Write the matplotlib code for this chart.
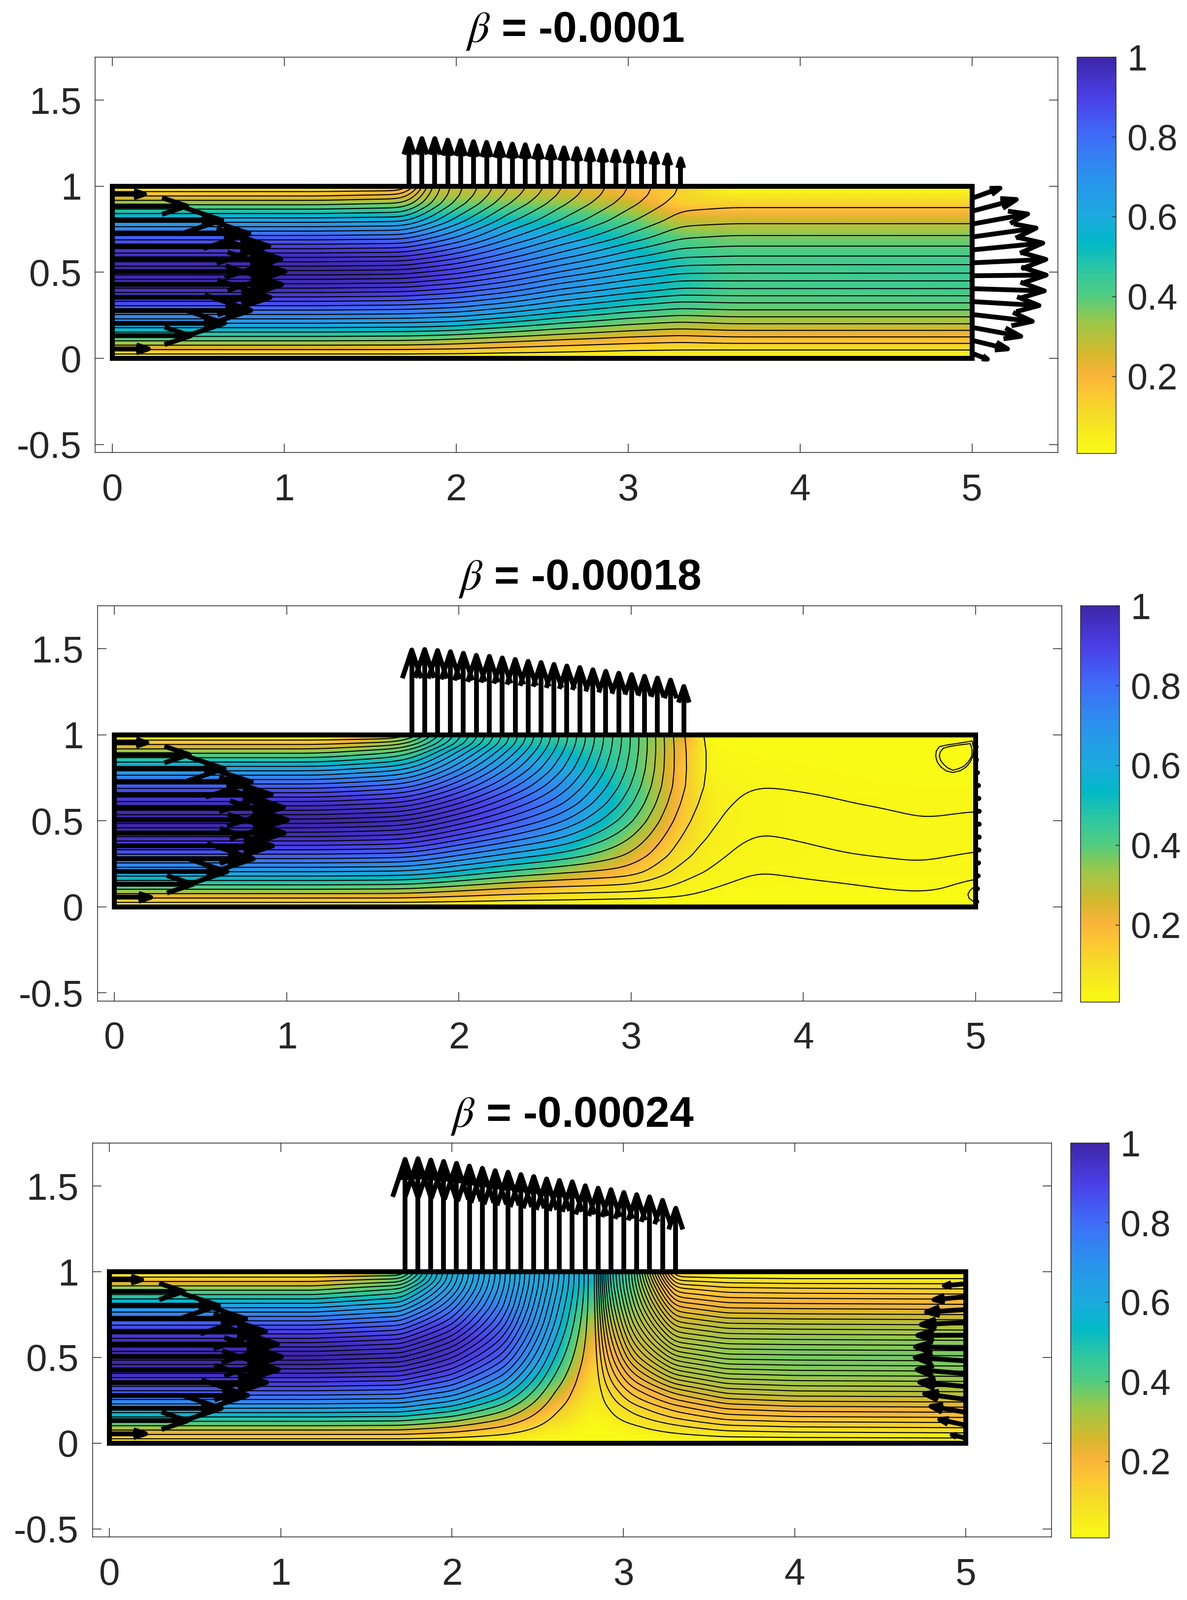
import numpy as np
import matplotlib
matplotlib.use('Agg')
import matplotlib.pyplot as plt
from matplotlib.colors import LinearSegmentedColormap

plt.rcParams['font.family'] = ['Liberation Sans', 'DejaVu Sans']
plt.rcParams['mathtext.fontset'] = 'stix'
plt.rcParams['axes.unicode_minus'] = False
plt.rcParams['contour.negative_linestyle'] = 'solid'

W, H = 2409, 3246
DARK = '#262626'

############# colour scale ###########################################
cmap_pos = [0.0, 0.10, 0.15, 0.20, 0.25, 0.33, 0.40, 0.46, 0.53, 0.60, 0.70, 0.80, 0.90, 1.0]
cmap_col = ['#f9fb15', '#f5da28', '#fcc733', '#f8b33a', '#d6b82c', '#9cc748', '#4fcc82', '#2fc7a0',
            '#02b9c6', '#1caadf', '#2a92ec', '#3f6df8', '#4a3fe6', '#3e26a8']

y_st = [0, .05, .1, .2, .3, .4, .5, .6, .7, .8, .9, .95, 1]

############# panel 1 : beta = -0.0001 ####################
x1 = [0, 1.2, 1.7, 1.85, 2, 2.3, 2.6, 3, 3.3, 3.6, 5]
# inlet height of the streamline through each station, one list per x station
s1 = [[0, .05, .1, .2, .3, .4, .5, .6, .7, .8, .9, .95, 1],
      [0, .05, .1, .2, .3, .4, .5, .6, .7, .8, .9, .95, 1],
      [0, .05, .098, .197, .296, .395, .495, .595, .695, .795, .89, .94, 1],
      [0, .048, .095, .194, .29, .385, .48, .575, .665, .75, .815, .83, .84],
      [0, .047, .09, .19, .285, .375, .467, .553, .635, .703, .755, .77, .775],
      [0, .04, .08, .17, .26, .345, .425, .5, .565, .62, .665, .68, .69],
      [0, .035, .07, .15, .23, .305, .38, .45, .51, .56, .595, .608, .615],
      [0, .028, .06, .13, .2, .27, .335, .395, .45, .49, .52, .53, .535],
      [0, .026, .055, .12, .185, .25, .31, .365, .41, .445, .47, .478, .48],
      [0, .0255, .06, .127, .19, .252, .309, .36, .403, .44, .465, .475, .48],
      [0, .0255, .06, .127, .19, .252, .309, .36, .403, .44, .465, .475, .48]]
u1 = [[0, .19, .36, .64, .84, .96, 1, .96, .84, .64, .36, .19, 0],
      [0, .19, .36, .64, .84, .96, 1, .96, .84, .64, .36, .19, 0],
      [0, .18, .34, .62, .81, .93, .97, .93, .80, .60, .35, .22, .2],
      [0, .17, .33, .6, .78, .9, .93, .9, .77, .58, .37, .3, .27],
      [0, .16, .31, .57, .75, .86, .89, .85, .73, .56, .38, .31, .27],
      [0, .14, .27, .5, .67, .78, .81, .77, .67, .53, .37, .30, .26],
      [0, .12, .23, .44, .6, .7, .72, .69, .61, .49, .35, .28, .24],
      [0, .10, .19, .36, .5, .58, .6, .57, .50, .40, .28, .22, .2],
      [0, .09, .17, .32, .43, .49, .51, .47, .40, .28, .14, .12, .16],
      [0, .085, .16, .3, .39, .42, .43, .42, .37, .27, .13, .06, 0],
      [0, .085, .16, .3, .39, .43, .44, .42, .37, .27, .13, .06, 0]]

############# panel 2 : beta = -0.00018 ####################
x2 = [0, 1.2, 1.7, 1.85, 2, 2.3, 2.6, 3, 3.3, 3.45, 3.7, 4.2, 4.7, 5]
s2 = [[0, .05, .1, .2, .3, .4, .5, .6, .7, .8, .9, .95, 1],
      [0, .05, .1, .2, .3, .4, .5, .6, .7, .8, .9, .95, 1],
      [0, .05, .098, .196, .294, .39, .485, .58, .675, .77, .865, .93, 1],
      [0, .045, .09, .185, .275, .365, .455, .545, .635, .72, .80, .85, .88],
      [0, .042, .083, .17, .255, .34, .425, .51, .59, .665, .735, .78, .80],
      [0, .035, .07, .145, .22, .295, .365, .43, .495, .55, .60, .625, .635],
      [0, .032, .065, .13, .195, .255, .31, .36, .40, .435, .46, .47, .475],
      [0, .027, .06, .115, .15, .18, .21, .235, .255, .27, .278, .28, .28],
      [0, .022, .04, .062, .082, .094, .106, .116, .124, .124, .122, .12, .118],
      [0, .012, .024, .048, .062, .074, .082, .088, .092, .094, .094, .093, .092],
      [0, .006, .012, .024, .036, .047, .057, .067, .076, .082, .086, .088, .09],
      [0, .009, .019, .035, .049, .058, .066, .075, .081, .086, .09, .091, .092],
      [0, .015, .03, .044, .056, .066, .076, .082, .086, .09, .092, .092, .092],
      [0, .008, .015, .03, .048, .06, .072, .08, .086, .09, .092, .092, .092]]
u2 = [[0, .19, .36, .64, .84, .96, 1, .96, .84, .64, .36, .19, 0],
      [0, .19, .36, .64, .84, .96, 1, .96, .84, .64, .36, .19, 0],
      [0, .18, .34, .62, .81, .93, .97, .93, .81, .62, .4, .36, .4],
      [0, .17, .32, .59, .79, .92, .95, .93, .83, .68, .53, .48, .48],
      [0, .15, .29, .55, .75, .88, .93, .92, .83, .71, .58, .5, .48],
      [0, .11, .22, .44, .64, .78, .85, .86, .79, .7, .58, .5, .47],
      [0, .07, .14, .32, .5, .63, .72, .74, .70, .62, .54, .48, .45],
      [0, .03, .07, .16, .25, .33, .41, .46, .45, .43, .42, .42, .41],
      [0, .015, .03, .06, .08, .12, .15, .17, .17, .17, .2, .22, .28],
      [0, .01, .02, .035, .04, .05, .05, .05, .04, .03, .02, .015, 0],
      [0, .01, .015, .02, .03, .025, .025, .025, .025, .02, .015, .01, 0],
      [0, .01, .012, .02, .02, .02, .02, .02, .018, .015, .01, .01, 0],
      [0, .01, .012, .02, .02, .02, .02, .02, .015, .01, .01, .01, 0],
      [0, .01, .012, .02, .02, .02, .02, .02, .015, .01, .01, .01, 0]]
# closed loops at the right wall
loop_a_x = [4.769, 4.772, 4.79, 4.83, 4.89, 4.94, 4.98, 4.99, 4.985, 4.968, 4.945, 4.91, 4.868, 4.83, 4.80, 4.778, 4.769]
loop_a_y = [.876, .905, .931, .94, .949, .957, .964, .92, .876, .84, .812, .79, .781, .79, .812, .842, .876]
loop_b_x = [4.79, 4.795, 4.813, 4.85, 4.90, 4.94, 4.97, 4.98, 4.978, 4.96, 4.934, 4.90, 4.868, 4.838, 4.813, 4.797, 4.79]
loop_b_y = [.876, .90, .922, .932, .94, .945, .949, .915, .876, .845, .818, .802, .794, .808, .83, .852, .876]
loop_c_x = [4.985, 4.968, 4.956, 4.962, 4.985]
loop_c_y = [.11, .095, .073, .05, .033]

############# panel 3 : beta = -0.00024 ####################
x3 = [0, 1.2, 1.7, 1.85, 2, 2.3, 2.6, 2.75, 2.83, 2.9, 3.05, 3.3, 3.6, 4, 5]
# positive: inlet height of the line, negative: outlet height of the line
s3 = [[0, .05, .1, .2, .3, .4, .5, .6, .7, .8, .9, .95, 1],
      [0, .05, .1, .2, .3, .4, .5, .6, .7, .8, .9, .95, 1],
      [0, .05, .098, .196, .294, .39, .485, .58, .675, .77, .865, .93, 1],
      [0, .045, .09, .18, .27, .36, .45, .535, .62, .705, .785, .83, .85],
      [0, .04, .08, .165, .25, .33, .41, .49, .565, .63, .69, .71, .72],
      [0, .025, .052, .11, .17, .23, .29, .345, .395, .435, .46, .468, .47],
      [0, .006, .013, .03, .05, .075, .10, .125, .15, .17, .19, .197, .20],
      [0, .001, .003, .008, .013, .02, .03, .04, .05, .06, .068, .07, .07],
      [0, 0, 0, 0, 0, 0, 0, 0, 0, 0, 0, 0, 0],
      [0, -.003, -.008, -.025, -.05, -.08, -.11, -.14, -.17, -.2, -.225, -.235, -.24],
      [0, -.01, -.025, -.07, -.13, -.2, -.27, -.33, -.385, -.43, -.465, -.475, -.48],
      [0, -.025, -.055, -.13, -.22, -.33, -.44, -.55, -.65, -.75, -.86, -.93, -1],
      [0, -.04, -.085, -.18, -.28, -.385, -.49, -.59, -.69, -.79, -.89, -.945, -1],
      [0, -.045, -.095, -.195, -.295, -.395, -.495, -.595, -.695, -.795, -.895, -.95, -1],
      [0, -.05, -.1, -.2, -.3, -.4, -.5, -.6, -.7, -.8, -.9, -.95, -1]]
u3 = [[0, .19, .36, .64, .84, .96, 1, .96, .84, .64, .36, .19, 0],
      [0, .19, .36, .64, .84, .96, 1, .96, .84, .64, .36, .19, 0],
      [0, .18, .34, .62, .81, .93, .97, .93, .81, .62, .42, .4, .45],
      [0, .16, .31, .58, .78, .92, .97, .96, .87, .72, .6, .55, .55],
      [0, .14, .27, .53, .73, .88, .94, .95, .88, .76, .65, .6, .58],
      [0, .09, .19, .39, .59, .75, .84, .86, .82, .74, .66, .62, .6],
      [0, .03, .07, .17, .31, .45, .55, .6, .62, .62, .6, .6, .6],
      [0, .015, .03, .07, .13, .2, .27, .32, .38, .45, .52, .58, .6],
      [0, .005, .01, .04, .07, .1, .14, .2, .28, .38, .48, .55, .6],
      [0, .01, .02, .06, .1, .15, .18, .22, .28, .38, .45, .5, .55],
      [0, .02, .05, .11, .17, .22, .25, .28, .31, .36, .4, .43, .47],
      [0, .05, .1, .18, .25, .3, .31, .3, .27, .22, .16, .12, .15],
      [0, .06, .12, .21, .29, .33, .35, .33, .29, .22, .15, .09, 0],
      [0, .06, .12, .22, .3, .35, .37, .35, .3, .22, .15, .08, 0],
      [0, .06, .12, .22, .3, .35, .37, .35, .3, .22, .13, .07, 0]]

############# arrows ####################
inlet_y = [.055, .131, .204, .279, .354, .429, .505, .578, .653, .726, .803, .885, .954]
inlet_u = [.21, .456, .653, .806, .918, .986, 1.005, .981, .911, .795, .637, .434, .188]

top_x = [1.726, 1.801, 1.876, 1.951, 2.026, 2.101, 2.177, 2.252, 2.327, 2.402, 2.477,
         2.552, 2.627, 2.702, 2.778, 2.853, 2.928, 3.003, 3.078, 3.153, 3.229, 3.306]
top1 = [.277, .277, .277, .268, .265, .259, .255, .250, .245, .241, .235,
        .230, .223, .219, .214, .208, .204, .199, .195, .19, .182, .159]
top2 = [.493, .496, .49, .483, .474, .462, .456, .447, .438, .427, .42,
        .409, .40, .391, .378, .369, .358, .35, .34, .33, .318, .281]
top3 = [.656, .66, .652, .644, .633, .617, .604, .59, .581, .567, .556,
        .542, .533, .525, .502, .488, .479, .463, .45, .437, .417, .371]

outlet_y = [.03, .105, .18, .255, .33, .405, .48, .555, .63, .705, .78, .855, .93]
out1_u = [.09, .207, .284, .351, .39, .421, .432, .43, .412, .373, .324, .258, .163]
out1_v = [-.035, -.05, -.052, -.04, -.023, -.013, .004, .02, .04, .052, .059, .068, .059]
out2_u = [.008, .012, .016, .018, .02, .022, .022, .022, .02, .018, .012, .006, .004]
out2_v = [0, 0, 0, 0, 0, 0, 0, 0, 0, 0, 0, 0, 0]
out3_u = [-.08, -.153, -.204, -.241, -.27, -.285, -.296, -.294, -.281, -.261, -.23, -.186, -.126]
out3_v = [.018, .033, .035, .033, .026, .024, .02, .007, -.001, -.013, -.015, -.018, -.011]

titles = ['$\\beta$ = -0.0001', '$\\beta$ = -0.00018', '$\\beta$ = -0.00024']
xticks = [0, 1, 2, 3, 4, 5]
xtick_labels = ['0', '1', '2', '3', '4', '5']
yticks = [-.5, 0, .5, 1, 1.5]
ytick_labels = ['-0.5', '0', '0.5', '1', '1.5']
cb_ticks = [.2, .4, .6, .8, 1]
cb_labels = ['0.2', '0.4', '0.6', '0.8', '1']

############# layout in pixels of the reference ####################
ax_box = [(193, 2147, 116, 918), (197.5, 2154.5, 1229, 2030.5), (187.5, 2134, 2319.4, 3118)]
cb_box = [(2186, 2265, 116, 920), (2193, 2272, 1229, 2033), (2173, 2251, 2319, 3120)]
title_pos = [(1167, 85), (1176, 1196), (1161, 2286)]
blur_x = [5, 9, 3]

cmap = LinearSegmentedColormap.from_list('rev_parula', list(zip(cmap_pos, cmap_col)), N=256)
fig = plt.figure(figsize=(W / 100, H / 100), dpi=100, facecolor='w')

xf = np.linspace(0, 5, 501)
yf = np.linspace(0, 1, 201)


def blur(z, sig, axis):
    r = int(3 * sig)
    k = np.exp(-.5 * (np.arange(-r, r + 1) / sig) ** 2)
    k = k / k.sum()
    return np.apply_along_axis(lambda a: np.convolve(np.pad(a, r, mode='edge'), k, mode='valid'), axis, z)


def fine_field(xs, table, sig_x):
    # station table -> fine grid for drawing, rows are y and columns are x
    t = np.array(table, float)
    by_x = np.array([np.interp(xf, xs, t[:, j]) for j in range(t.shape[1])])
    fine = np.array([np.interp(yf, y_st, by_x[:, k]) for k in range(len(xf))]).T
    return blur(blur(fine, sig_x, 1), 2, 0)


def draw_arrow(ax, x, y, dx, dy):
    # shaft and V head, the head is a third of the arrow and its front half is filled
    xe, ye = x + dx, y + dy
    bx, by = dx / 3, dy / 3
    ax.plot([x, xe], [y, ye], color='k', lw=7, solid_capstyle='butt', zorder=6)
    ax.plot([xe - bx - by / 3, xe, xe - bx + by / 3], [ye - by + bx / 3, ye, ye - by - bx / 3],
            color='k', lw=7, solid_capstyle='butt', solid_joinstyle='round', zorder=6)
    ax.fill([xe, xe - .55 * (bx + by / 3), xe - .55 * (bx - by / 3)],
            [ye, ye - .55 * (by - bx / 3), ye - .55 * (by + bx / 3)], color='k', lw=0, zorder=6)


panels = [(x1, s1, u1, top1, out1_u, out1_v), (x2, s2, u2, top2, out2_u, out2_v), (x3, s3, u3, top3, out3_u, out3_v)]

for i, (xs, ss, us, top, ou, ov) in enumerate(panels):
    l, r, t, b = ax_box[i]
    ax = fig.add_axes([l / W, 1 - b / H, (r - l) / W, (b - t) / H])
    pc = ax.pcolormesh(xf, yf, fine_field(xs, us, 3), shading='gouraud', cmap=cmap, vmin=.0074, vmax=1, zorder=1)

    levels = list(np.arange(1, 39) * .0255)
    if i == 2:
        levels = list(np.arange(-33, 0) * .03) + levels
    ax.contour(xf, yf, fine_field(xs, ss, blur_x[i]), levels=levels, colors='k', linewidths=1.5, zorder=2)
    if i == 1:
        for lx, ly in [(loop_a_x, loop_a_y), (loop_b_x, loop_b_y), (loop_c_x, loop_c_y)]:
            ax.plot(lx, ly, color='k', lw=1.5, zorder=2)

    ax.plot([0, 5, 5, 0, 0], [0, 0, 1, 1, 0], color='k', lw=7.2, solid_joinstyle='miter', zorder=5)

    for y0, u0 in zip(inlet_y, inlet_u):
        draw_arrow(ax, 0, y0, u0, 0)
    for x0, v0 in zip(top_x, top):
        draw_arrow(ax, x0, 1, 0, v0)
    for y0, u0, v0 in zip(outlet_y, ou, ov):
        draw_arrow(ax, 5, y0, u0, v0)

    ax.set_xlim(-.1, 5.5)
    ax.set_ylim(-.547, 1.75)
    ax.set_xticks(xticks)
    ax.set_xticklabels(xtick_labels)
    ax.set_yticks(yticks)
    ax.set_yticklabels(ytick_labels)
    ax.tick_params(direction='in', length=13, width=1.1, color=DARK, top=True, right=True)
    ax.tick_params(axis='x', pad=30, labelsize=55, labelcolor=DARK)
    ax.tick_params(axis='y', pad=20, labelsize=55, labelcolor=DARK)
    for sp in ax.spines.values():
        sp.set_color(DARK)
        sp.set_linewidth(1.1)

    l, r, t, b = cb_box[i]
    cax = fig.add_axes([l / W, 1 - b / H, (r - l) / W, (b - t) / H])
    cb = fig.colorbar(pc, cax=cax)
    cb.set_ticks(cb_ticks)
    cb.set_ticklabels(cb_labels)
    cax.tick_params(direction='in', length=6, width=1.1, color=DARK, labelsize=53, labelcolor=DARK, pad=16)
    cb.outline.set_edgecolor(DARK)
    cb.outline.set_linewidth(1.1)

    tx, ty = title_pos[i]
    fig.text(tx / W, 1 - ty / H, titles[i], ha='center', va='baseline', fontsize=63, fontweight='bold', color='k')

fig.savefig('out.png', dpi=100, facecolor='w')
